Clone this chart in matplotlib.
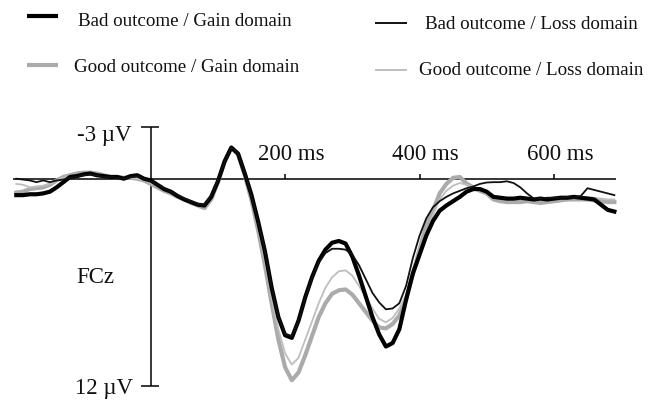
import numpy as np
import matplotlib
matplotlib.use("Agg")
import matplotlib.pyplot as plt
from matplotlib.lines import Line2D

plt.rcParams['font.family'] = ['Liberation Serif', 'DejaVu Serif']

# ---- data (µV, negative up), sampled every 10 ms from -200 to 690 ms ----
times = np.arange(-200, 700, 10)

bad_gain = [0.95, 0.95, 0.9, 0.9, 0.85, 0.75, 0.5, 0.2, -0.1, -0.15,
            -0.25, -0.3, -0.2, -0.15, -0.1, -0.1, 0.0, -0.15, -0.2, 0.0,
            0.1, 0.35, 0.6, 0.75, 1.0, 1.2, 1.35, 1.5, 1.55, 1.05,
            0.15, -1.0, -1.8, -1.45, -0.3, 0.95, 2.5, 4.2, 6.3, 8.0,
            9.05, 9.2, 8.2, 6.85, 5.7, 4.75, 4.1, 3.7, 3.6, 3.75,
            4.5, 5.6, 6.8, 8.0, 9.0, 9.7, 9.5, 8.7, 7.0, 5.5,
            4.4, 3.3, 2.45, 1.85, 1.55, 1.3, 1.05, 0.75, 0.6, 0.6,
            0.75, 1.05, 1.1, 1.15, 1.15, 1.1, 1.15, 1.2, 1.15, 1.2,
            1.15, 1.1, 1.1, 1.05, 1.1, 1.15, 1.2, 1.5, 1.8, 1.9]

bad_loss = [0.0, 0.05, 0.1, 0.2, 0.1, 0.2, 0.1, 0.05, -0.05, -0.1,
            -0.2, -0.25, -0.2, -0.1, -0.1, -0.05, 0.0, -0.1, -0.15, 0.0,
            0.15, 0.35, 0.55, 0.75, 0.95, 1.15, 1.3, 1.45, 1.5, 1.0,
            0.1, -1.0, -1.8, -1.45, -0.3, 1.0, 2.5, 4.2, 6.3, 8.0,
            8.95, 9.1, 8.25, 6.9, 5.75, 4.85, 4.3, 4.05, 4.05, 4.1,
            4.4, 5.0, 5.8, 6.6, 7.15, 7.55, 7.5, 7.2, 6.2, 4.6,
            3.3, 2.3, 1.65, 1.3, 1.05, 0.85, 0.7, 0.55, 0.45, 0.3,
            0.22, 0.2, 0.2, 0.15, 0.25, 0.5, 0.85, 1.15, 1.15, 1.1,
            1.1, 1.1, 1.05, 1.1, 1.0, 0.55, 0.65, 0.75, 0.85, 0.95]

good_gain = [0.8, 0.75, 0.6, 0.55, 0.5, 0.35, 0.1, -0.1, -0.2, -0.3,
             -0.35, -0.35, -0.3, -0.2, -0.1, -0.1, -0.05, -0.05, 0.0, 0.1,
             0.3, 0.5, 0.7, 0.85, 1.05, 1.2, 1.4, 1.55, 1.7, 1.2,
             0.2, -1.0, -1.8, -1.4, -0.2, 1.25, 3.0, 5.0, 7.2, 9.3,
             10.9, 11.65, 11.2, 10.2, 9.1, 8.0, 7.2, 6.65, 6.45, 6.4,
             6.7, 7.2, 7.7, 8.2, 8.6, 8.65, 8.4, 7.9, 7.0, 5.5,
             4.1, 2.7, 1.85, 0.85, 0.3, -0.05, -0.1, 0.28, 0.5, 0.7,
             0.85, 1.2, 1.3, 1.35, 1.35, 1.35, 1.3, 1.35, 1.4, 1.35,
             1.3, 1.25, 1.2, 1.2, 1.2, 1.2, 1.25, 1.3, 1.35, 1.35]

good_loss = [0.3, 0.35, 0.5, 0.45, 0.4, 0.3, 0.1, -0.05, -0.15, -0.2,
             -0.25, -0.3, -0.25, -0.2, -0.1, -0.05, 0.0, -0.05, 0.0, 0.1,
             0.25, 0.45, 0.65, 0.8, 1.0, 1.15, 1.35, 1.5, 1.6, 1.15,
             0.15, -1.0, -1.8, -1.4, -0.25, 1.2, 2.9, 4.7, 6.9, 8.7,
             10.1, 10.75, 10.35, 9.3, 8.25, 7.2, 6.3, 5.7, 5.35, 5.3,
             5.6, 6.2, 6.85, 7.5, 8.1, 8.3, 8.05, 7.5, 6.7, 5.3,
             4.2, 3.2, 2.1, 1.2, 0.7, 0.4, 0.25, 0.35, 0.5, 0.6,
             0.8, 1.0, 1.1, 1.15, 1.2, 1.15, 1.15, 1.2, 1.2, 1.15,
             1.1, 1.1, 1.05, 1.05, 1.05, 1.05, 1.1, 1.15, 1.2, 1.2]

x_ticks = [200, 400, 600]
x_tick_labels = ["200 ms", "400 ms", "600 ms"]
y_ends = [-3, 12]
y_end_labels = ["-3 µV", "12 µV"]
legend_labels = ["Bad outcome / Gain domain", "Good outcome / Gain domain",
                 "Bad outcome / Loss domain", "Good outcome / Loss domain"]

# ---- figure ----
W, H = 662, 401
fig = plt.figure(figsize=(W / 100, H / 100), dpi=100)
ax = fig.add_axes([0, 0, 1, 1])
ax.set_axis_off()

x0px, kx = 150.7, 0.672   # pixel of t=0, px per ms
y0px, ky = 178.7, 17.3    # pixel of 0 µV, px per µV
ax.set_xlim(-x0px / kx, (W - x0px) / kx)
ax.set_ylim((H - y0px) / ky, -y0px / ky)

# axes
axis_kw = dict(color='black', lw=1.1, solid_capstyle='butt')
ax.plot([-205, 693], [0, 0], **axis_kw)
ax.plot([0, 0], [y_ends[0], y_ends[1]], **axis_kw)
for v in y_ends:
    ax.plot([-14, 13], [v, v], **axis_kw)
for t in x_ticks:
    ax.plot([t, t], [0, -0.28], **axis_kw)

# waveforms
ax.plot(times, good_gain, color='#ababab', lw=3.0, solid_joinstyle='round')
ax.plot(times, good_loss, color='#bebebe', lw=1.3, solid_joinstyle='round')
ax.plot(times, bad_gain, color='black', lw=3.0, solid_joinstyle='round')
ax.plot(times, bad_loss, color='#111111', lw=1.3, solid_joinstyle='round')

# text labels
fs = 16.5
for t, lab in zip(x_ticks, x_tick_labels):
    ax.text(t + 9, -1.07, lab, ha='center', va='baseline', fontsize=fs, color='#111111')
ax.text(-29, -2.18, y_end_labels[0], ha='right', va='baseline', fontsize=fs, color='#111111')
ax.text(-27, 12.44, y_end_labels[1], ha='right', va='baseline', fontsize=fs, color='#111111')
ax.text(-110, 6.04, "FCz", ha='left', va='baseline', fontsize=fs, color='#111111')

# legend (figure pixel coordinates)
leg = [
    # (x1, x2, y_line, color, lw, text_x, baseline)
    (27, 58, 16, 'black', 3.0, 78, 26),
    (27, 58, 65, '#ababab', 3.0, 74, 71.5),
    (375, 407, 23, '#111111', 1.4, 425, 29.3),
    (375, 407, 70, '#bebebe', 1.4, 419, 75),
]
for (x1, x2, yl, c, lw, tx, tb), lab in zip(leg, legend_labels):
    fig.add_artist(Line2D([x1 / W, x2 / W], [1 - yl / H, 1 - yl / H],
                          transform=fig.transFigure, color=c, lw=lw,
                          solid_capstyle='butt'))
    fig.text(tx / W, 1 - tb / H, lab, ha='left', va='baseline', fontsize=13.7, color='#111111')

fig.savefig('out.png', dpi=100, facecolor='white')
